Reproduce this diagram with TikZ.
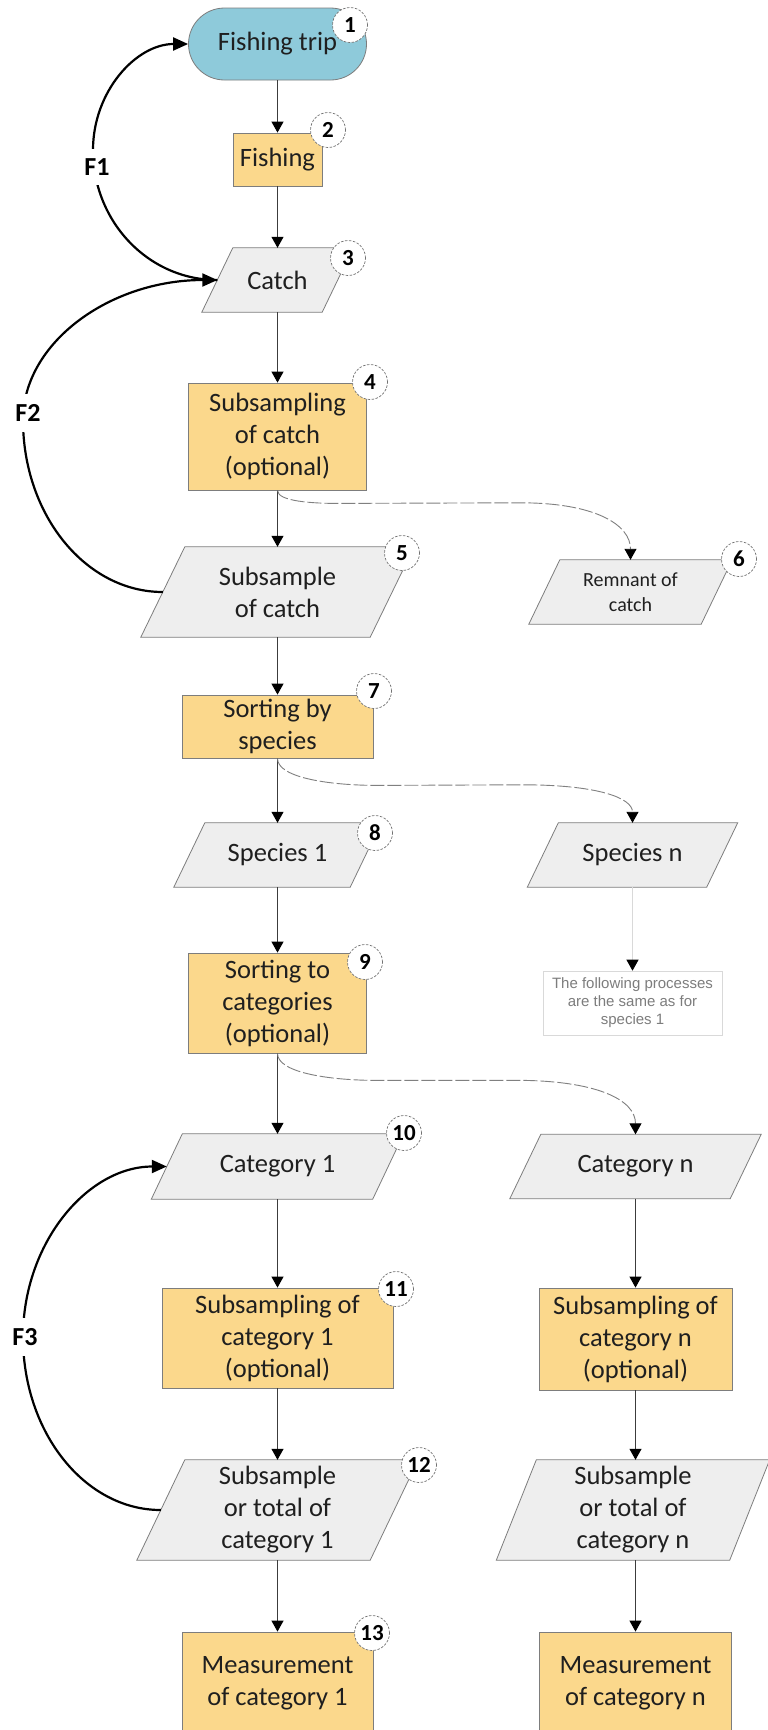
\documentclass[tikz,border=0pt]{standalone}
\usepackage{fontspec}
\setmainfont{Carlito}
\newfontfamily\notefont{Liberation Sans}
\usetikzlibrary{arrows.meta,calc}
\pgfdeclarelayer{bg}
\pgfsetlayers{bg,main}
\definecolor{tripblue}{RGB}{142,202,218}
\definecolor{procfill}{RGB}{251,216,140}
\definecolor{parafill}{RGB}{238,238,238}
\definecolor{edgegray}{RGB}{125,125,125}
\definecolor{linegray}{RGB}{60,60,60}
\definecolor{notegray}{RGB}{125,125,125}
\tikzset{
  base/.style={font=\fontsize{26.5}{32}\selectfont, align=center, inner sep=0pt, text=black!88},
  term/.style={base, rectangle, rounded corners=36pt, fill=tripblue, draw=edgegray, line width=0.8pt},
  proc/.style={base, rectangle, fill=procfill, draw=edgegray, line width=0.8pt},
  data/.style={base, rectangle},
  databg/.style={fill=parafill, draw=edgegray, line width=0.8pt},
  notebox/.style={rectangle, draw=black!15, line width=0.6pt, inner sep=0pt, align=center,
    text=notegray, font=\notefont\fontsize{15}{18}\selectfont},
  num/.style={circle, fill=white, draw=black!55, dash pattern=on 2.5pt off 1.5pt, line width=0.7pt,
    minimum size=35pt, inner sep=0pt, font=\fontsize{23}{23}\selectfont\bfseries},
  flow/.style={draw=linegray, line width=1pt, -{Triangle[width=12pt,length=11pt,color=black]}},
  dashflow/.style={draw=gray, line width=0.9pt, dash pattern=on 14pt off 3pt,
    -{Triangle[width=12pt,length=11pt,color=black]}},
  lightflow/.style={draw=black!15, line width=0.9pt, -{Triangle[width=12pt,length=11pt,color=black]}},
  fb/.style={draw=black, line width=2.2pt, -{Triangle[width=13pt,length=15pt]}},
  flab/.style={fill=white, inner xsep=2pt, inner ysep=10pt, font=\fontsize{26}{26}\selectfont\bfseries}
}
\begin{document}
\begin{tikzpicture}[x=1pt,y=-1pt]
\useasboundingbox (0,0) rectangle (768,1730);
\clip (0,0) rectangle (768,1730);
\begin{pgfonlayer}{bg}
\fill[white] (0,0) rectangle (768,1730);
\end{pgfonlayer}

% left column (data nodes: width = edge length, parallelogram drawn behind)
\node[term, minimum width=178pt, minimum height=72pt] (trip) at (277.5,44) {Fishing trip};
\node[proc, minimum width=89pt, minimum height=53pt] (fish) at (277.5,159.5) {Fishing};
\node[data, minimum width=120pt, minimum height=64pt] (catch) at (277.5,280) {Catch};
\node[proc, minimum width=178pt, minimum height=107pt] (sub4) at (277.5,436.5) {Subsampling\\of catch\\(optional)};
\node[data, minimum width=229pt, minimum height=90pt] (subc5) at (277.5,592) {Subsample\\of catch};
\node[proc, minimum width=191pt, minimum height=63pt] (sort7) at (277.5,726.5) {Sorting by\\species};
\node[data, minimum width=176pt, minimum height=64pt] (sp1) at (277.5,855) {Species 1};
\node[proc, minimum width=178pt, minimum height=100pt] (sort9) at (277.5,1003) {Sorting to\\categories\\(optional)};
\node[data, minimum width=221pt, minimum height=65pt] (cat1) at (277.5,1166.5) {Category 1};
\node[proc, minimum width=231pt, minimum height=100pt] (sub11) at (277.5,1338) {Subsampling of\\category 1\\(optional)};
\node[data, minimum width=233pt, minimum height=100pt] (st1) at (277.5,1510) {Subsample\\or total of\\category 1};
\node[proc, minimum width=191pt, minimum height=102pt] (meas1) at (277.5,1683) {Measurement\\of category 1};

% right column
\node[data, minimum width=172pt, minimum height=64pt, font=\fontsize{20}{25}\selectfont] (rem) at (630.5,592) {Remnant of\\catch};
\node[data, minimum width=179pt, minimum height=64pt] (spn) at (632.5,855) {Species n};
\node[notebox, minimum width=179pt, minimum height=64pt] (note) at (632.5,1003) {The following processes\\are the same as for\\species 1};
\node[data, minimum width=220pt, minimum height=64pt] (catn) at (635.5,1166.5) {Category n};
\node[proc, minimum width=193pt, minimum height=102pt] (subn) at (635.5,1339) {Subsampling of\\category n\\(optional)};
\node[data, minimum width=233pt, minimum height=100pt] (stn) at (633,1510) {Subsample\\or total of\\category n};
\node[proc, minimum width=192pt, minimum height=102pt] (measn) at (635.5,1683) {Measurement\\of category n};

% parallelogram bodies behind the data nodes
\begin{pgfonlayer}{bg}
\foreach \n/\s in {catch/31, subc5/44, sp1/31, cat1/31, st1/48, rem/31, spn/31, catn/31, stn/40}{
  \filldraw[databg] ([xshift=\s*0.5pt]\n.north west) -- ([xshift=\s*0.5pt]\n.north east)
    -- ([xshift=-\s*0.5pt]\n.south east) -- ([xshift=-\s*0.5pt]\n.south west) -- cycle;
}
\end{pgfonlayer}

% main flow
\draw[flow] (trip.south) -- (trip.south |- fish.north);
\draw[flow] (fish.south) -- (fish.south |- catch.north);
\draw[flow] (catch.south) -- (catch.south |- sub4.north);
\draw[flow] (sub4.south) -- (sub4.south |- subc5.north);
\draw[flow] (subc5.south) -- (subc5.south |- sort7.north);
\draw[flow] (sort7.south) -- (sort7.south |- sp1.north);
\draw[flow] (sp1.south) -- (sp1.south |- sort9.north);
\draw[flow] (sort9.south) -- (sort9.south |- cat1.north);
\draw[flow] (cat1.south) -- (cat1.south |- sub11.north);
\draw[flow] (sub11.south) -- (sub11.south |- st1.north);
\draw[flow] (st1.south) -- (st1.south |- meas1.north);
\draw[flow] (catn.south) -- (catn.south |- subn.north);
\draw[flow] (subn.south) -- (subn.south |- stn.north);
\draw[flow] (stn.south -| subn.south) -- (subn.south |- measn.north);
\draw[lightflow] (spn.south) -- (spn.south |- note.north);

% dashed branches
\draw[dashflow] (sub4.south) .. controls +(0,11) and +(-25,0) .. ($(sub4.south)+(60,13)$)
  -- ($(rem.north)+(-110,-57)$) .. controls +(75,0) and +(0,-35) .. (rem.north);
\draw[dashflow] (sort7.south) .. controls +(0,20) and +(-45,0) .. ($(sort7.south)+(100,27)$)
  -- ($(spn.north)+(-110,-38)$) .. controls +(75,0) and +(0,-25) .. (spn.north);
\draw[dashflow] (sort9.south) .. controls +(0,20) and +(-45,0) .. ($(sort9.south)+(100,27)$)
  -- ($(catn.north)+(-120,-54)$) .. controls +(80,0) and +(0,-35) .. (catn.north);

% feedback loops
\draw[fb] (catch.west) .. controls (148.5,280) and (93,221.8) .. (93,150)
  .. controls (93,91.5) and (136,44) .. (trip.west);
\draw[fb] (subc5.west) .. controls (85.7,592) and (23,515) .. (23,420)
  .. controls (23,342.7) and (109.9,280) .. (catch.west);
\draw[fb] (st1.west) .. controls (84.8,1510) and (23,1432.5) .. (23,1337)
  .. controls (23,1243) and (87.5,1166.5) .. (cat1.west);
\node[flab] (f1) at (97,167) {F1};
\node[flab] (f2) at (28,413) {F2};
\node[flab] (f3) at (25,1337) {F3};

% number badges
\node[num] (n1) at (350,25) {1};
\node[num] (n2) at (328,130) {2};
\node[num] (n3) at (348,258) {3};
\node[num] (n4) at (370,382) {4};
\node[num] (n5) at (402,553) {5};
\node[num] (n6) at (739,559) {6};
\node[num] (n7) at (374,691) {7};
\node[num] (n8) at (375,833) {8};
\node[num] (n9) at (365,962) {9};
\node[num] (n10) at (404,1133) {10};
\node[num] (n11) at (396,1289) {11};
\node[num] (n12) at (419,1465) {12};
\node[num] (n13) at (372,1633) {13};
\end{tikzpicture}
\end{document}
